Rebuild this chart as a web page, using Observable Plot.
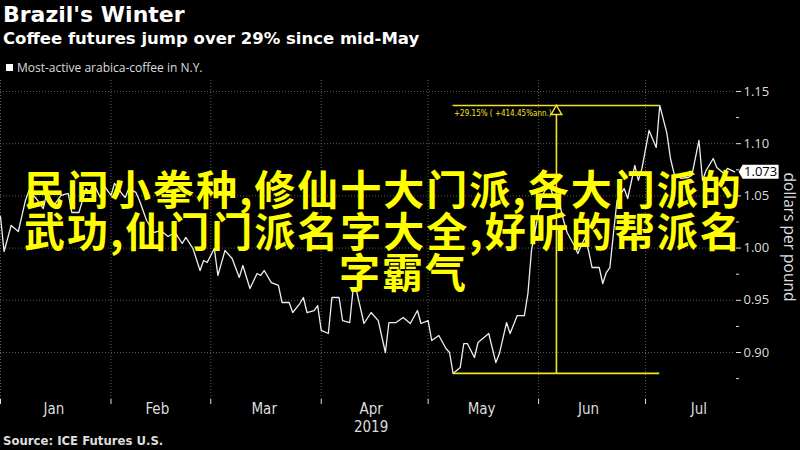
<!DOCTYPE html>
<html><head><meta charset="utf-8">
<script src="https://cdn.jsdelivr.net/npm/d3@7"></script>
<script src="https://cdn.jsdelivr.net/npm/@observablehq/plot@0.6"></script>
<style>
html,body{margin:0;padding:0;background:#000;}
#wrap{position:relative;width:800px;height:450px;overflow:hidden;background:#000;}
#head{position:relative;height:80px;}
#title{position:absolute;left:3px;top:2px;font:bold 22px "DejaVu Sans",sans-serif;color:#fff;white-space:nowrap;}
#subtitle{position:absolute;left:3px;top:29px;font:bold 16.5px "DejaVu Sans",sans-serif;color:#fff;white-space:nowrap;}
#legend{position:absolute;left:6px;top:59px;font:12px "Open Sans",sans-serif;color:#ddd;white-space:nowrap;display:flex;align-items:center;}
#legend span.sw{display:inline-block;width:7px;height:7px;background:#fff;margin-right:4px;}
#chart svg{display:block;}
#source{position:absolute;left:3px;top:433px;font:bold 13px "DejaVu Sans Condensed","DejaVu Sans",sans-serif;color:#ddd;white-space:nowrap;}
.cn{position:absolute;font-family:"Noto Sans CJK SC",sans-serif;font-weight:700;font-size:41px;line-height:41.5px;letter-spacing:2px;color:#ffff00;white-space:nowrap;}
</style>
</head><body>
<div id="wrap">
  <div id="head">
    <div id="title">Brazil's Winter</div>
    <div id="subtitle">Coffee futures jump over 29% since mid-May</div>
    <div id="legend"><span class="sw"></span>Most-active arabica-coffee in N.Y.</div>
  </div>
  <div id="chart"></div>
  <div id="source">Source: ICE Futures U.S.</div>
  <div class="cn" style="left:24px;top:167px;">民间小拳种,修仙十大门派,各大门派的<br>武功,仙门门派名字大全,好听的帮派名<br><span style="padding-left:315px;">字霸气</span></div>
</div>
<script>
const dates = [
"2019-01-01","2019-01-02","2019-01-04","2019-01-06","2019-01-08","2019-01-09","2019-01-11","2019-01-13","2019-01-14","2019-01-16",
"2019-01-18","2019-01-20","2019-01-21","2019-01-23","2019-01-25","2019-01-26","2019-01-27","2019-01-29","2019-01-30",
"2019-02-01","2019-02-02","2019-02-04","2019-02-05","2019-02-06","2019-02-08","2019-02-09","2019-02-11","2019-02-13","2019-02-15",
"2019-02-17","2019-02-19","2019-02-21","2019-02-22","2019-02-24","2019-02-26","2019-02-27","2019-02-28",
"2019-03-02","2019-03-03","2019-03-05","2019-03-07","2019-03-09","2019-03-10","2019-03-12","2019-03-14","2019-03-15","2019-03-16",
"2019-03-18","2019-03-20","2019-03-21","2019-03-23","2019-03-24","2019-03-26","2019-03-27","2019-03-28","2019-03-30","2019-03-31",
"2019-04-01","2019-04-03","2019-04-04","2019-04-06","2019-04-07","2019-04-09","2019-04-10","2019-04-11","2019-04-13","2019-04-15",
"2019-04-17","2019-04-19","2019-04-20","2019-04-22","2019-04-24","2019-04-26","2019-04-28","2019-04-29",
"2019-05-01","2019-05-02","2019-05-04","2019-05-06","2019-05-07","2019-05-08","2019-05-10","2019-05-11","2019-05-12","2019-05-14",
"2019-05-15","2019-05-18","2019-05-20","2019-05-21","2019-05-23","2019-05-24","2019-05-26","2019-05-28","2019-05-29","2019-05-30",
"2019-06-01","2019-06-02","2019-06-04","2019-06-05","2019-06-07","2019-06-08","2019-06-09","2019-06-11","2019-06-12","2019-06-14",
"2019-06-15","2019-06-16","2019-06-18","2019-06-19","2019-06-20","2019-06-21","2019-06-22","2019-06-23","2019-06-25","2019-06-26",
"2019-06-28","2019-06-29","2019-06-30",
"2019-07-02","2019-07-04","2019-07-05","2019-07-07","2019-07-08","2019-07-09","2019-07-11","2019-07-13","2019-07-14","2019-07-16",
"2019-07-17","2019-07-18","2019-07-20","2019-07-21","2019-07-23","2019-07-24","2019-07-26"
];
const prices = [
1.0300,0.9967,1.0217,1.0159,1.0456,1.0552,1.0475,1.0379,1.0533,1.0408,
1.0504,1.0523,1.0341,1.0341,1.0571,1.0523,1.0628,1.0485,1.0600,
1.0504,1.0619,1.0523,1.0485,1.0571,1.0533,1.0456,1.0264,1.0149,1.0169,
1.0111,1.0149,1.0044,1.0102,0.9996,0.9785,0.9881,0.9862,
0.9996,0.9738,0.9977,0.9900,0.9719,0.9833,0.9613,0.9757,0.9738,0.9785,
0.9670,0.9642,0.9479,0.9479,0.9383,0.9469,0.9527,0.9383,0.9402,0.9450,
0.9212,0.9182,0.9527,0.9527,0.9306,0.9287,0.9623,0.9575,0.9278,0.9383,
0.9306,0.9000,0.9287,0.9287,0.9335,0.9278,0.9402,0.9278,
0.9306,0.9115,0.9163,0.9038,0.9000,0.8800,0.8856,0.9086,0.9086,0.8952,
0.9096,0.9182,0.8904,0.8990,0.9287,0.9182,0.9354,0.9354,0.9565,0.9977,
1.0341,1.0504,1.0619,1.0504,1.0408,1.0264,1.0149,1.0025,0.9948,1.0102,
0.9977,0.9814,0.9814,0.9661,0.9766,0.9814,1.0140,1.0456,1.0571,1.0475,
1.0791,1.0648,1.0763,
1.1127,1.0964,1.1366,1.1098,1.0858,1.0715,1.0667,1.0676,1.0696,1.1031,
1.0648,1.0743,1.0858,1.0772,1.0715,1.0763,1.0730
];
const monthStarts = ["2019-01-01","2019-02-01","2019-03-01","2019-04-01","2019-05-01","2019-06-01","2019-07-01"];
const monthLabelDates = ["2019-01-16","2019-02-14","2019-03-16","2019-04-15","2019-05-16","2019-06-15","2019-07-16"];
const yTicks = [0.90, 0.95, 1.00, 1.05, 1.10, 1.15];
const yMinorTicks = [0.875, 0.925, 0.975, 1.025, 1.075, 1.125];
const yearLabel = "2019";
const changeLabel = "+29.15% ( +414.45%ann.)";
const unitLabel = "dollars per pound";

const series = dates.map((d, i) => ({date: new Date(d), value: prices[i]}));
const low = d3.least(series, d => d.value);
const high = d3.greatest(series, d => d.value);
const midDate = new Date((+low.date + +high.date) / 2);
const last = series[series.length - 1];
const yellow = "#f3e12a";
const axisFont = '"Open Sans", sans-serif';
const narrowFont = '"Liberation Sans Narrow", "DejaVu Sans Condensed", sans-serif';

const tagSymbol = {
  draw(ctx) {
    ctx.moveTo(4, 0);
    ctx.lineTo(8, -7);
    ctx.lineTo(44, -7);
    ctx.lineTo(44, 7);
    ctx.lineTo(8, 7);
    ctx.closePath();
  }
};

const chart = Plot.plot({
  width: 800,
  height: 352,
  marginTop: 0,
  marginLeft: 0,
  marginRight: 65,
  marginBottom: 33,
  style: {background: "#000", color: "#ddd", fontFamily: axisFont, overflow: "visible"},
  x: {type: "utc", domain: [new Date("2019-01-01"), new Date("2019-07-26T06:00")]},
  y: {domain: [0.855, 1.1605]},
  marks: [
    Plot.gridX(monthStarts.map(d => new Date(d)), {stroke: "#5a5a5a", strokeOpacity: 1, strokeDasharray: "1,2"}),
    Plot.gridY(yTicks, {stroke: "#5a5a5a", strokeOpacity: 1, strokeDasharray: "1,2"}),
    Plot.axisX(monthStarts.map(d => new Date(d)), {tickSize: 5, tickFormat: () => "", line: true, stroke: "#ddd", label: null}),
    Plot.axisX(monthLabelDates.map(d => new Date(d)), {
      tickSize: 0, tickPadding: 4, label: null, fontSize: 15, fontFamily: narrowFont, fill: "#ddd",
      tickFormat: d3.utcFormat("%b")
    }),
    Plot.text([{x: new Date(monthLabelDates[3])}], {x: "x", frameAnchor: "bottom", text: () => yearLabel, dy: 32, fontSize: 15, fontFamily: narrowFont, fill: "#ddd"}),
    Plot.axisY(yTicks, {anchor: "right", tickSize: 5, tickPadding: 3, tickFormat: d3.format(".2f"), line: true, label: null, fontSize: 13, fill: "#ddd", stroke: "#ddd"}),
    Plot.axisY(yMinorTicks, {anchor: "right", tickSize: 3, tickFormat: () => "", label: null, stroke: "#ddd"}),
    Plot.text([unitLabel], {frameAnchor: "right", textAnchor: "middle", rotate: 90, dx: 53, dy: -3, fill: "#ddd", fontSize: 15.5}),
    Plot.line(series, {x: "date", y: "value", stroke: "#eeeeee", strokeWidth: 1.3}),
    Plot.ruleY([{y: low.value, x1: low.date, x2: high.date}, {y: high.value, x1: low.date, x2: high.date}],
      {y: "y", x1: "x1", x2: "x2", stroke: yellow, strokeWidth: 1.6}),
    Plot.ruleX([{x: midDate, y1: low.value, y2: high.value}], {x: "x", y1: "y1", y2: "y2", stroke: yellow, strokeWidth: 1.6}),
    Plot.dot([{x: midDate, y: high.value}], {x: "x", y: "y", symbol: "triangle", r: 4, dy: 6, fill: "#000", stroke: yellow, strokeWidth: 1.4}),
    Plot.text([{x: low.date, y: high.value}], {x: "x", y: "y", text: () => changeLabel, dx: 1, dy: 8, textAnchor: "start", fill: yellow, fontSize: 8, fontFamily: '"DejaVu Sans Condensed", sans-serif'}),
    Plot.dot([last], {x: "date", y: "value", symbol: tagSymbol, fill: "#fff", stroke: "none"}),
    Plot.text([last], {x: "date", y: "value", text: d => d3.format(".3f")(d.value), dx: 26, fill: "#000", fontSize: 13})
  ]
});
document.getElementById("chart").appendChild(chart);
</script>
</body></html>
